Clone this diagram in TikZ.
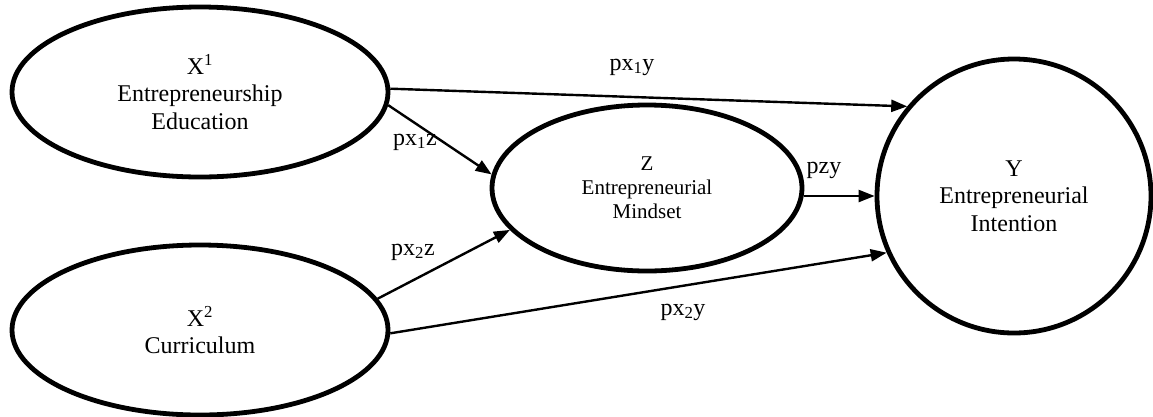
\documentclass[tikz,border=0pt]{standalone}
\usepackage{fontspec}
\setmainfont{Liberation Serif}
\usetikzlibrary{shapes.geometric,arrows.meta}
\begin{document}
\begin{tikzpicture}[x=1pt,y=-1pt,
  latent/.style={draw, line width=4.8pt, ellipse, inner sep=0pt, align=center,
    font=\fontsize{24}{27.5}\selectfont},
  pathline/.style={line width=2.4pt, -{Triangle[length=16pt,width=12pt]}},
  lbl/.style={font=\fontsize{24}{27}\selectfont, inner sep=0pt}]
\useasboundingbox (0,0) rectangle (1153,416);
\node[latent, minimum width=376pt, minimum height=170pt] (X1) at (200,92)
  {X\textsuperscript{1}\\Entrepreneurship\\Education};
\node[latent, minimum width=376pt, minimum height=170pt] (X2) at (200,330)
  {X\textsuperscript{2}\\Curriculum};
\node[latent, minimum width=310pt, minimum height=166pt,
  font=\fontsize{21}{24}\selectfont] (Z) at (647,188)
  {Z\\Entrepreneurial\\Mindset};
\node[draw, circle, line width=4.8pt, minimum size=274pt, inner sep=0pt,
  align=center, font=\fontsize{24}{27.5}\selectfont] (Y) at (1014,196)
  {Y\\Entrepreneurial\\Intention};
\draw[pathline] (X1.1) -- (Y.140);
\draw[pathline] (X1.-4) -- (Z.175);
\draw[pathline] (X2.10) -- (Z.197);
\draw[pathline] (X2.-1) -- (Y.204);
\draw[pathline] (Z.east |- Y.west) -- (Y.west);
\node[lbl] (l1) at (632,67) {px\textsubscript{1}y};
\node[lbl] (l2) at (415,142) {px\textsubscript{1}z};
\node[lbl] (l3) at (413,252) {px\textsubscript{2}z};
\node[lbl] (l4) at (683,312) {px\textsubscript{2}y};
\node[lbl] (l5) at (824,170) {pzy};
\end{tikzpicture}
\end{document}
